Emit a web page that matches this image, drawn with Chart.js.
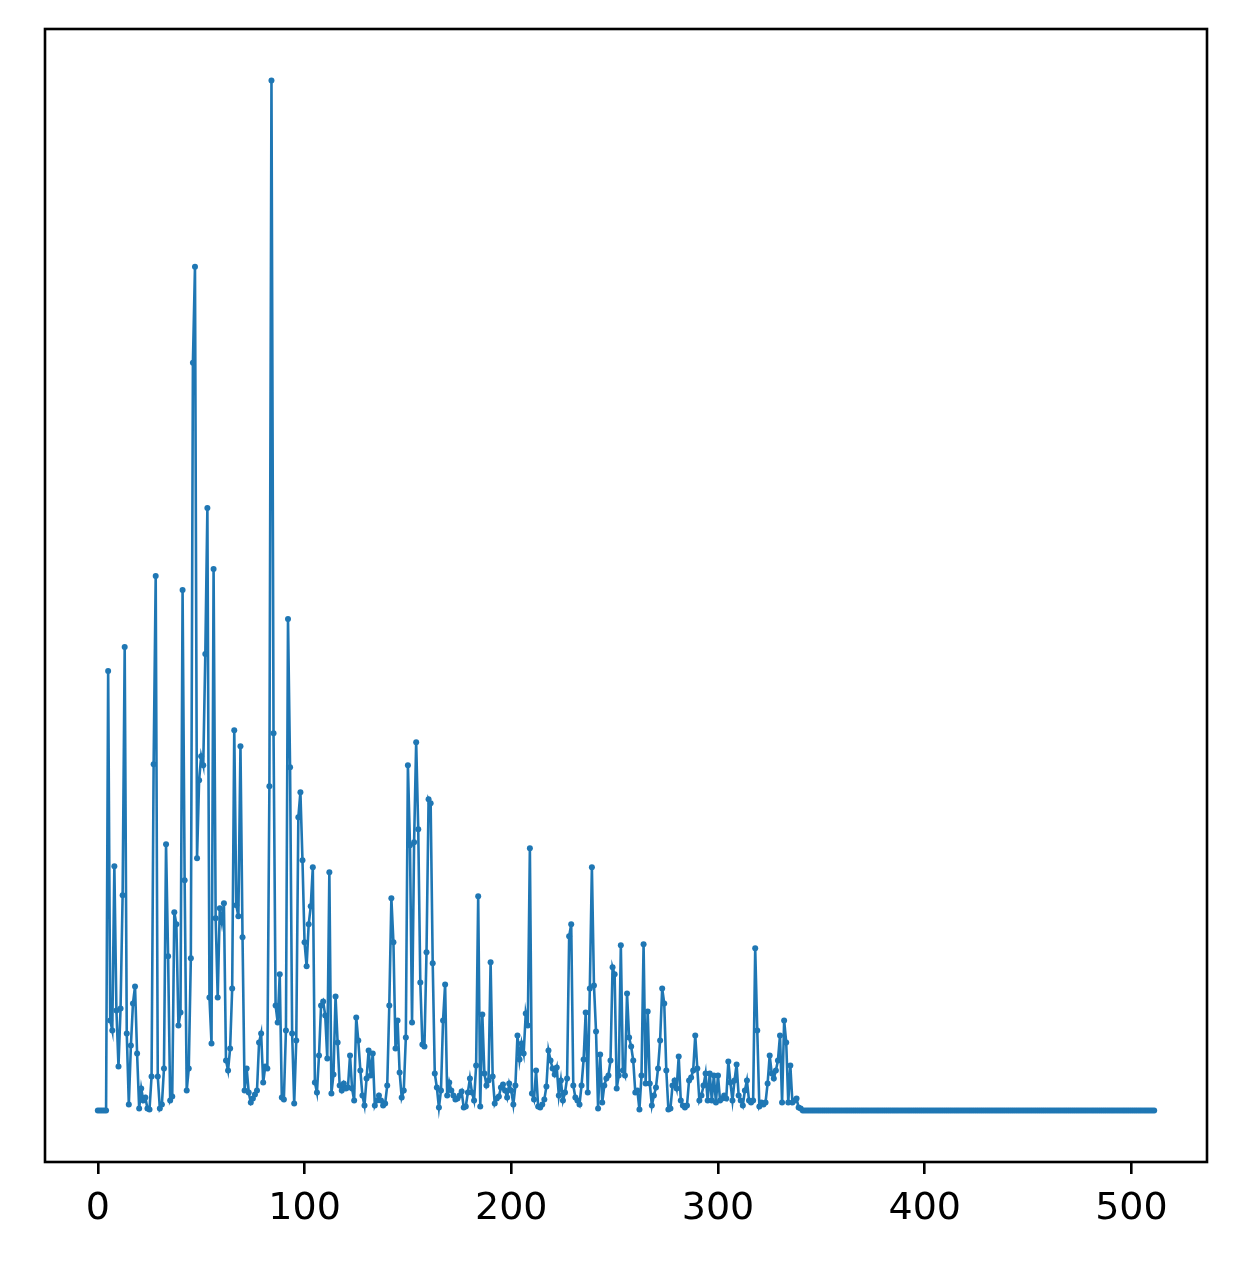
<!DOCTYPE html>
<html>
<head>
<meta charset="utf-8">
<script src="https://cdn.jsdelivr.net/npm/chart.js@4.4.1/dist/chart.umd.min.js"></script>
<style>
  html, body { margin: 0; padding: 0; background: #fff; }
  canvas { display: block; }
</style>
</head>
<body>
<canvas id="lineChart" width="1237" height="1263"></canvas>
<script>
// values, one per sample index (0..511)
var values = [
  0, 0, 0, 0, 0, 439, 90, 80, 244, 100,
  44, 102, 215, 463, 77, 6, 65, 107, 124, 57,
  2, 22, 10, 13, 2, 1, 34, 346, 534, 34,
  2, 6, 42, 266, 154, 10, 14, 198, 186, 85,
  98, 520, 230, 20, 42, 152, 747, 843, 252, 330,
  354, 345, 456, 602, 113, 67, 541, 192, 113, 202,
  188, 207, 50, 40, 62, 122, 380, 205, 194, 364,
  173, 20, 42, 18, 8, 12, 16, 20, 68, 77,
  28, 44, 42, 324, 1029, 377, 105, 88, 136, 13,
  11, 80, 491, 343, 77, 7, 70, 293, 318, 250,
  168, 144, 186, 204, 243, 28, 18, 55, 105, 109,
  95, 52, 238, 17, 36, 114, 68, 25, 20, 27,
  22, 23, 55, 22, 10, 93, 70, 40, 15, 5,
  32, 60, 35, 57, 5, 10, 15, 10, 5, 7,
  25, 105, 212, 168, 62, 90, 38, 13, 20, 73,
  345, 265, 88, 268, 368, 281, 128, 66, 64, 158,
  311, 307, 147, 37, 23, 3, 20, 90, 126, 15,
  28, 20, 15, 11, 12, 15, 19, 3, 4, 18,
  32, 18, 10, 45, 214, 4, 96, 37, 25, 30,
  148, 34, 7, 12, 14, 23, 26, 20, 13, 27,
  20, 6, 25, 75, 51, 67, 57, 97, 85, 262,
  17, 11, 40, 4, 3, 6, 11, 24, 60, 50,
  42, 36, 43, 15, 30, 10, 18, 32, 174, 186,
  25, 13, 10, 6, 25, 51, 98, 18, 122, 243,
  125, 79, 2, 56, 8, 25, 32, 35, 50, 143,
  136, 22, 35, 165, 40, 35, 117, 73, 64, 50,
  18, 20, 1, 35, 166, 27, 99, 27, 5, 15,
  23, 42, 70, 122, 107, 40, 1, 2, 25, 30,
  22, 54, 10, 5, 3, 5, 30, 33, 40, 75,
  42, 10, 15, 25, 37, 10, 37, 10, 35, 8,
  35, 10, 12, 15, 12, 49, 28, 10, 30, 46,
  15, 10, 5, 20, 30, 10, 8, 10, 162, 80,
  4, 8, 6, 8, 27, 55, 37, 32, 40, 50,
  75, 8, 90, 68, 8, 45, 8, 10, 12, 3,
  2, 0, 0, 0, 0, 0, 0, 0, 0, 0,
  0, 0, 0, 0, 0, 0, 0, 0, 0, 0,
  0, 0, 0, 0, 0, 0, 0, 0, 0, 0,
  0, 0, 0, 0, 0, 0, 0, 0, 0, 0,
  0, 0, 0, 0, 0, 0, 0, 0, 0, 0,
  0, 0, 0, 0, 0, 0, 0, 0, 0, 0,
  0, 0, 0, 0, 0, 0, 0, 0, 0, 0,
  0, 0, 0, 0, 0, 0, 0, 0, 0, 0,
  0, 0, 0, 0, 0, 0, 0, 0, 0, 0,
  0, 0, 0, 0, 0, 0, 0, 0, 0, 0,
  0, 0, 0, 0, 0, 0, 0, 0, 0, 0,
  0, 0, 0, 0, 0, 0, 0, 0, 0, 0,
  0, 0, 0, 0, 0, 0, 0, 0, 0, 0,
  0, 0, 0, 0, 0, 0, 0, 0, 0, 0,
  0, 0, 0, 0, 0, 0, 0, 0, 0, 0,
  0, 0, 0, 0, 0, 0, 0, 0, 0, 0,
  0, 0, 0, 0, 0, 0, 0, 0, 0, 0,
  0, 0
];
var xTicks = [0, 100, 200, 300, 400, 500];

var points = values.map(function (v, i) { return { x: i, y: v }; });

// black frame round the plot area
var frame = {
  id: 'frame',
  afterDraw: function (chart) {
    var a = chart.chartArea, c = chart.ctx;
    c.save();
    c.strokeStyle = '#000';
    c.lineWidth = 2.6;
    c.strokeRect(a.left, a.top, a.right - a.left, a.bottom - a.top);
    c.restore();
  }
};

var ctx = document.getElementById('lineChart').getContext('2d');
var myChart = new Chart(ctx, {
  type: 'line',
  data: {
    datasets: [{
      data: points,
      borderColor: '#1f77b4',
      borderWidth: 2.6,
      pointRadius: 3,
      pointBackgroundColor: '#1f77b4',
      pointBorderWidth: 0,
      tension: 0
    }]
  },
  options: {
    responsive: false,
    animation: false,
    devicePixelRatio: 1,
    layout: { padding: { left: 45, top: 29, right: 30, bottom: 0 } },
    plugins: { legend: { display: false }, tooltip: { enabled: false } },
    scales: {
      x: {
        type: 'linear',
        min: -25.55,
        max: 536.55,
        afterBuildTicks: function (s) { s.ticks = xTicks.map(function (v) { return { value: v }; }); },
        afterFit: function (s) { s.height = 101; },
        border: { display: false },
        grid: { display: true, drawOnChartArea: false, drawTicks: true, tickLength: 12, color: '#000', lineWidth: 2.6 },
        ticks: {
          color: '#000',
          padding: 12,
          maxRotation: 0,
          font: { family: 'DejaVu Sans', size: 38 }
        }
      },
      y: {
        min: -51.45,
        max: 1080.45,
        afterFit: function (s) { s.width = 0; },
        border: { display: false },
        grid: { display: false },
        ticks: { display: false }
      }
    }
  },
  plugins: [frame]
});
</script>
</body>
</html>
